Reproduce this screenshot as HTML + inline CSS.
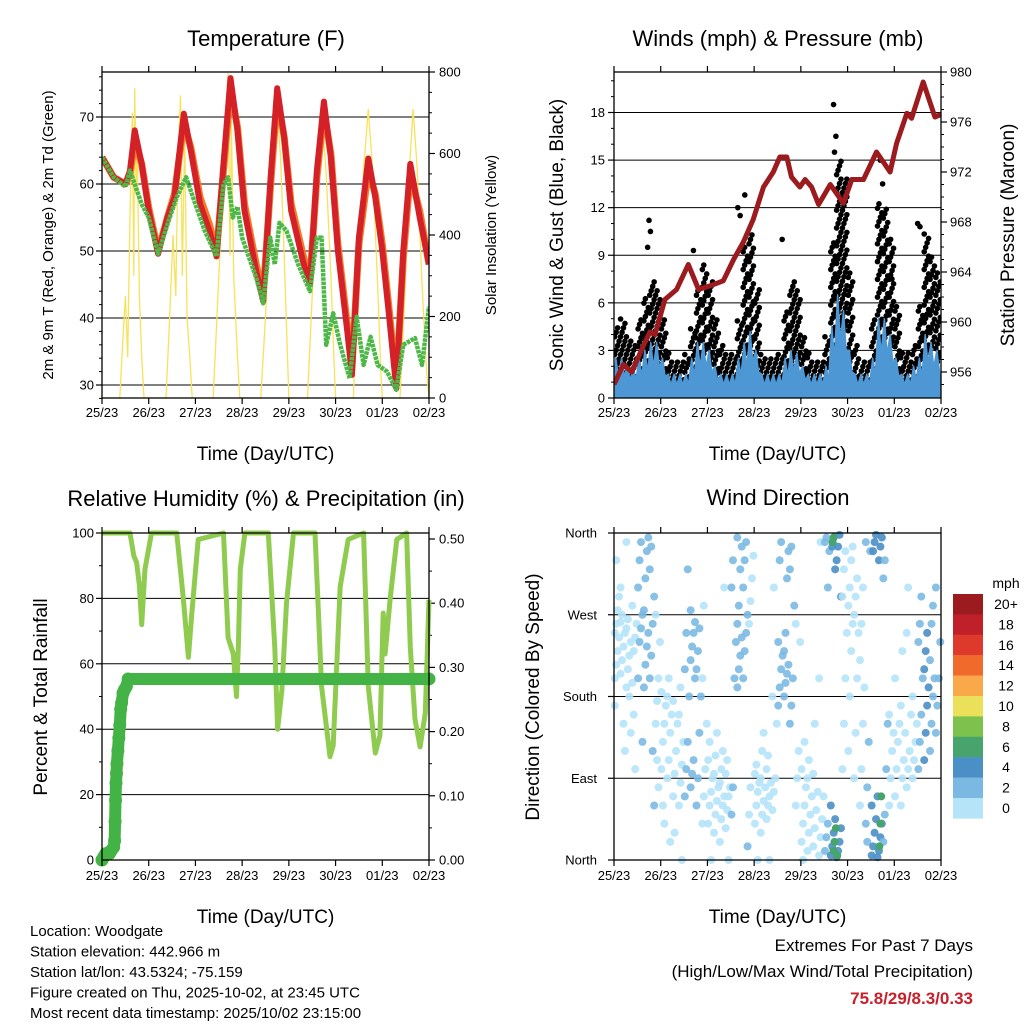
<!DOCTYPE html>
<html><head><meta charset="utf-8"><title>Weather station dashboard</title>
<style>
html,body{margin:0;padding:0;background:#fff;}
svg{display:block;font-family:"Liberation Sans",Arial,sans-serif;}
</style></head>
<body>
<svg id="root" width="1024" height="1024" viewBox="0 0 1024 1024" xmlns="http://www.w3.org/2000/svg">
<rect width="1024" height="1024" fill="#fff"/>
</svg>
<script>
// ---------- DATA ----------
const dayLabels = ["25/23","26/23","27/23","28/23","29/23","30/23","01/23","02/23"];
// Temperature (days since start, deg F)
const tempTime = [0,0.25,0.5,0.6,0.7,0.85,1.0,1.2,1.4,1.55,1.75,1.9,2.1,2.3,2.45,2.6,2.75,2.9,3.05,3.3,3.45,3.6,3.75,3.9,4.05,4.3,4.45,4.6,4.75,4.9,5.05,5.25,5.35,5.5,5.7,5.85,6.0,6.15,6.3,6.45,6.6,6.8,7.0];
const temp2m = [64,61,60,62,68,63,56,49.6,55,58,70.5,65,57,53,49.2,63,75.8,68,56,47,42.5,60,74.3,67,56,48.5,45,62,72.3,64,50,38,31.5,52,63.8,58,50,40,29.5,50,63,55,48];
const temp9m = [64,61,60,61.5,66.5,63,56.5,50,55,58.5,69,65.5,58,54,49.8,62,74,68.5,57,48,43.5,59,73,67,57,49.5,45.5,61,71,64.5,51,39,32.5,51,62,58.5,51,41,30.5,49,61.5,56,48];
const dewTime = [0,0.25,0.5,0.6,0.75,0.85,1.0,1.2,1.45,1.6,1.8,2.0,2.2,2.45,2.6,2.7,2.8,2.9,3.0,3.3,3.45,3.6,3.7,3.8,3.95,4.2,4.45,4.6,4.7,4.8,4.95,5.1,5.3,5.45,5.6,5.75,5.9,6.1,6.3,6.45,6.7,6.85,7.0];
const dewPoint = [64,61,59.6,62,59,57,55,49.6,55,58,61,57,53,49.2,60,61,55,56.6,52,46,42.2,52,48,54.2,53,48,44,52,52,36,40.7,36,31,40.2,33,37.2,33,32,29.3,36,37,33,41.7];
const solarTime = [0,0.38,0.45,0.5,0.55,0.6,0.65,0.68,0.7,0.73,0.75,0.8,0.85,0.9,1.37,1.45,1.52,1.58,1.62,1.68,1.72,1.77,1.82,1.88,1.93,2.38,2.48,2.58,2.65,2.7,2.74,2.77,2.82,2.9,2.95,3.4,3.5,3.6,3.68,3.75,3.82,3.9,3.97,4.0,4.4,4.5,4.6,4.7,4.8,4.9,4.97,5.0,5.38,5.5,5.6,5.7,5.8,5.9,5.97,6.0,6.38,6.5,6.58,6.66,6.75,6.85,6.95,7.0];
const solarVal = [0,0,150,250,100,450,700,300,760,500,650,250,100,0,0,200,400,250,550,743,300,650,200,100,0,0,250,500,700,797,350,680,300,100,0,0,200,450,650,694,600,350,100,0,0,250,500,707,550,300,80,0,0,300,560,709,550,280,60,0,0,300,560,709,560,280,60,0];
// Winds (3-hour bins) and pressure
const gustHi = [4.5,5,4,3.5,5,6.5,7.5,7, 5,3,2.5,2.5,3,4.5,7,8.5, 7.5,5,3.5,3,3,5,9.5,10.5, 7,3,2.5,2.5,3,5.5,7.5,7, 4,3,2.5,2.5,4,10,15,14, 8,3.5,2.5,2.5,5,12.5,12,10, 6,3,3,3.5,6,10.5,9,8];
const gustLo = [0.5,0.5,0.5,0.5,1,1.5,2,2, 1,0.3,0.3,0.3,0.5,1,2,2.5, 2,1,0.5,0.5,0.5,1.5,2.5,3, 1.5,0.5,0.5,0.5,0.5,1.5,2,2, 1,0.3,0.3,0.3,0.5,2.5,4,4, 2,0.5,0.3,0.3,1,3,3.5,3, 1,0.3,0.3,0.5,1,2.5,3,2];
const sonicHi = [2.5,2.5,2,2,2.5,3,3.5,3.5, 2.5,1.5,1.5,1.5,1.5,2.5,3.5,3.5, 3,2,1.5,1.5,1.5,2.5,3.5,4.2, 3,1.5,1.5,1.5,1.5,2.5,3,2.8, 2,1.5,1.5,1.5,2,4.5,6.5,5.5, 3,1.5,1.5,1.5,2.5,5,5,4, 2.5,1.5,1.5,2,2.5,4,3.5,3];
const gustOutlierTime = [0.75,0.78,0.72,1.7,2.65,2.7,2.8,3.6,4.7,4.75,4.72,5.7,5.75,5.95,6.5,6.55,1.75];
const gustOutlierVal = [11.2,10.5,9.5,9.3,12,11.5,12.8,10,18.5,16.5,15.5,15,13.5,7.5,11,10.8,3.8];
const presTime = [0,0.2,0.38,0.63,0.77,0.88,1.09,1.34,1.59,1.81,2.06,2.34,2.56,2.77,2.98,3.2,3.41,3.55,3.7,3.8,3.98,4.09,4.23,4.38,4.63,4.91,5.09,5.34,5.62,5.91,6.05,6.27,6.37,6.62,6.87,7.0];
const presVal = [955,956.6,956,958.1,959.2,959,961.8,962.6,964.6,962.6,962.9,963.3,965,966.4,968.2,970.8,972,973.2,973.2,971.6,970.8,971.4,970.8,969.4,971,969.5,971.4,971.4,973.6,972,974.3,976.7,976.3,979.2,976.4,976.6];
// RH and precipitation
const rhTime = [0,0.6,0.68,0.74,0.8,0.85,0.92,1.06,1.6,1.74,1.85,1.92,2.06,2.6,2.7,2.81,2.88,2.92,2.96,3.06,3.56,3.7,3.76,3.85,3.95,4.1,4.56,4.7,4.88,4.95,5.1,5.27,5.6,5.7,5.85,5.95,6.02,6.06,6.17,6.31,6.52,6.6,6.7,6.81,6.92,7.0];
const rhVal = [100,100,93,91,84,72,89,100,100,80,62,75,98,100,68,63,50,66,89,100,100,65,40,52,78.6,100,100,53,31.6,35,83.6,98,100,53,32.7,38,75.5,63,80,98,100,65,43,34.6,45,79.5];
const precipTime = [0,0.04,0.08,0.12,0.16,0.2,0.25,0.27,0.28,0.29,0.3,0.31,0.32,0.34,0.36,0.38,0.4,0.42,0.45,0.48,0.52,0.56,7.0];
const precipVal = [0,0.005,0.01,0.01,0.01,0.015,0.02,0.03,0.06,0.093,0.12,0.135,0.15,0.17,0.19,0.21,0.235,0.245,0.26,0.265,0.27,0.282,0.282];
// Wind direction (3-hour bins): degrees per bin and bin speed (mph)
const dirBins = [
[200,215,230,245,250,260,275,290,170,330],[205,220,235,250,262,270,150,120,300],[190,210,225,240,255,265,180,140,350],[195,230,245,260,280,160,100],
[200,240,255,270,300,330,350,130],[190,215,235,250,275,310,340,355],[200,225,260,290,320,345,120,60],[150,175,200,240,270,110,80],
[100,130,150,170,185,60,40],[90,110,140,160,180,200,20],[70,95,120,150,175,30],[60,85,105,130,160,190,0],
[70,100,130,180,210,250,320],[80,95,110,200,220,235,250,262,275],[60,90,140,180,210,230,255],[40,70,100,150,200,280],
[40,60,75,90,110,130,0],[30,50,65,80,95,115,140],[20,45,60,70,85,100,120,300],[35,55,70,80,95,110,0],
[50,80,200,240,300,330],[190,210,225,245,260,280,320,345,355],[200,230,250,270,300,330,350,15],[260,285,310,335,50,80],
[40,60,75,85,95,105,0],[30,50,65,80,90,120,140],[45,60,70,85,100,115,0],[55,75,90,150,180,300],
[170,190,210,225,240,330,350],[180,195,205,215,230,250,310,340],[150,170,200,280,320,345],[60,90,120,240,260],
[20,40,60,80,100,0,130],[10,30,50,70,90,110],[15,35,55,75,95,150],[5,25,45,70,200,350],
[10,25,40,340,350,355,300],[5,15,30,45,60,345,355,320],[3,10,20,35,330,345,358,290],[100,150,200,250,290,320,340],
[120,180,230,260,280,300,330,345],[90,140,200,250,270,290,310],[60,100,150,190,220,260,300],[40,80,130,340,350,20],
[5,15,30,45,60,340,350,358],[3,10,25,40,70,330,345,355],[20,50,100,150,310,330],[60,90,120,140,160],
[70,100,130,150,200],[60,90,110,140,170,230],[80,100,120,160,250,300],[90,110,130,150,180],
[100,130,160,200,240,260,290],[110,140,170,190,210,230,250],[120,150,180,200,220,260,280],[140,170,200,240,300]];
const dirBinSpeed = [1,1,1,1,2.5,3,3,1, 1,1,1,1,2.5,3,3,1, 1,1,1,1,2.5,3,3,1, 1,1,1,1,2.5,3,2.5,1, 1,1,1,1,3,4.5,4.5,1, 1,1,1,2.5,4.5,4.5,2.5,1, 1,1,1,1,3,4,3,2.5];
const strongTime = [4.7,4.72,4.75,4.68,4.7,5.7,5.72,5.68,4.78];
const strongDir = [10,20,35,350,355,40,70,15,5];
const strongSpd = [6.5,7,6.5,6.5,7,6.5,7,6.5,7];
const speedLabels = ["20+","18","16","14","12","10","8","6","4","2","0"];
const speedColors = ["#9b1b1e","#c0202a","#de3a2c","#f06a2b","#f9a84a","#ebe05a","#7cc24c","#47a46d","#4a8fc6","#7bb9e3","#b5e3f8"];

// ---------- HELPERS ----------
const NS = "http://www.w3.org/2000/svg";
const root = document.getElementById("root");
function el(tag, attrs, parent){
  const e = document.createElementNS(NS, tag);
  for (const k in attrs) e.setAttribute(k, attrs[k]);
  (parent||root).appendChild(e);
  return e;
}
function txt(s, x, y, size, anchor, parent, extra){
  const t = el("text", Object.assign({x:x, y:y, "font-size":size, "text-anchor":anchor||"middle", fill:"#000"}, extra||{}), parent);
  t.textContent = s;
  return t;
}
function lin(d0,d1,r0,r1){ return v => r0 + (v-d0)/(d1-d0)*(r1-r0); }
function path(xs, ys, sx, sy){ return xs.map((v,i)=>(i?"L":"M")+sx(v).toFixed(1)+","+sy(ys[i]).toFixed(1)).join(""); }

function panel(name){
  const g = el("g", {}, root);
  
  
  return g;
}
function frame(g, L,T,R,B, tickLabelY){
  const sx = lin(0,7,L,R);
  const fr = el("rect",{x:L,y:T,width:R-L,height:B-T,fill:"none",stroke:"#000","stroke-width":1.3}, g);
  
  
  const xg = el("g",{},g);
  
  
  for (let i=0;i<dayLabels.length;i++){
    const x = sx(i);
    el("line",{x1:x,y1:B,x2:x,y2:B+6,stroke:"#000","stroke-width":1.2},xg);
    el("line",{x1:x,y1:T,x2:x,y2:T-6,stroke:"#000","stroke-width":1.2},xg);
    const t = txt(dayLabels[i], x, tickLabelY, 13, "middle", xg);
    
    
  }
  const xt = txt("Time (Day/UTC)", (L+R)/2, tickLabelY+43, 19, "middle", g);
  
  
  return sx;
}
function yAxis(g, ticks, labels, sy, L, R, side, grid, minor, labX){
  const ag = el("g",{},g);
  
  
  ticks.forEach((v,i)=>{
    const y = sy(v);
    if (grid) el("line",{x1:L,y1:y,x2:R,y2:y,stroke:"#000","stroke-width":1},ag);
    if (side==="left") el("line",{x1:L,y1:y,x2:L-6,y2:y,stroke:"#000","stroke-width":1.2},ag);
    else el("line",{x1:R,y1:y,x2:R+6,y2:y,stroke:"#000","stroke-width":1.2},ag);
    const t = txt(labels[i], labX, y+4.5, 13, side==="left"?"end":"start", ag);
    
    
  });
  (minor||[]).forEach(v=>{
    const y = sy(v);
    if (side==="left") el("line",{x1:L,y1:y,x2:L-3,y2:y,stroke:"#000","stroke-width":1},ag);
    else el("line",{x1:R,y1:y,x2:R+3,y2:y,stroke:"#000","stroke-width":1},ag);
  });
}
function vtitle(g, s, x, y, size, name){
  const t = txt(s, x, y, size, "middle", g, {transform:"rotate(-90 "+x+" "+y+")"});
  
  
}
function title(g, s, x, y, name){
  const t = txt(s, x, y, 22, "middle", g);
  
  
}

// ---------- PANEL 1: TEMPERATURE ----------
(function(){
  const L=102,T=72,R=429,B=398;
  const g = panel("temperature-panel");
  title(g, "Temperature (F)", 266, 46, "temperature-title");
  const sy = lin(30,70,385,117);
  const sy2 = lin(0,800,398,72);
  const sx = lin(0,7,L,R);
  yAxis(g,[30,40,50,60,70],["30","40","50","60","70"],sy,L,R,"left",true,[28,32,34,36,38,42,44,46,48,52,54,56,58,62,64,66,68,72,74,76],94);
  const m2=[]; for(let v=50;v<800;v+=50) if(v%200) m2.push(v);
  yAxis(g,[0,200,400,600,800],["0","200","400","600","800"],sy2,L,R,"right",false,m2,439);
  const cp = el("clipPath",{id:"clipT"},g); el("rect",{x:L,y:T,width:R-L,height:B-T},cp);
  const cl = el("g",{"clip-path":"url(#clipT)"},g);
  const sol = el("path",{d:path(solarTime,solarVal,sx,sy2),fill:"none",stroke:"#f7e25a","stroke-width":1.3},cl);
  
  
  const o = el("path",{d:path(tempTime,temp9m,sx,sy),fill:"none",stroke:"#f47a2a","stroke-width":7,"stroke-linejoin":"round"},cl);
  
  
  const r = el("path",{d:path(tempTime,temp2m,sx,sy),fill:"none",stroke:"#d42027","stroke-width":6,"stroke-linejoin":"round"},cl);
  
  
  const d = el("path",{d:path(dewTime,dewPoint,sx,sy),fill:"none",stroke:"#4db748","stroke-width":4.5,"stroke-linejoin":"round","stroke-dasharray":"3.5 0.8"},cl);
  
  
  frame(g,L,T,R,B,417);
  vtitle(g,"2m & 9m T (Red, Orange) & 2m Td (Green)",53,235,15,"y-axis-title-left");
  vtitle(g,"Solar Insolation (Yellow)",496,235,15,"y-axis-title-right");
})();

// ---------- PANEL 2: WINDS ----------
(function(){
  const L=614,T=72,R=941,B=398;
  const g = panel("winds-panel");
  title(g, "Winds (mph) & Pressure (mb)", 778, 46, "winds-title");
  const sy = lin(0,18,398,112.5);
  const sy2 = lin(956,980,372,72);
  const sx = lin(0,7,L,R);
  const mn=[]; for(let v=1;v<21;v++) if(v%3) mn.push(v);
  yAxis(g,[0,3,6,9,12,15,18],["0","3","6","9","12","15","18"],sy,L,R,"left",true,mn,605);
  const mp=[]; for(let v=955;v<981;v++) if(v%4) mp.push(v);
  yAxis(g,[956,960,964,968,972,976,980],["956","960","964","968","972","976","980"],sy2,L,R,"right",false,mp,950);
  const cp = el("clipPath",{id:"clipW"},g); el("rect",{x:L,y:T,width:R-L,height:B-T},cp);
  const cl = el("g",{"clip-path":"url(#clipW)"},g);
  const bw = 7/gustHi.length;
  const gg = el("g",{},cl);
  
  
  for (let i=0;i<gustHi.length;i++){
    let k=0;
    for (let v=gustLo[i]; v<=gustHi[i]+0.01; v+=0.28, k++){
      const t = i*bw + ((k%4)+0.5)/4*bw;
      const c = el("circle",{cx:sx(t),cy:sy(v),r:2.8,fill:"#000"},gg);
      
      
    }
  }
  gustOutlierTime.forEach((t,i)=>{
    const c = el("circle",{cx:sx(t),cy:sy(gustOutlierVal[i]),r:2.8,fill:"#000"},gg);
    
    
  });
  let dd = "M"+sx(0)+","+sy(0);
  sonicHi.forEach((v,i)=>{ dd += "L"+sx(i*bw+bw*0.3).toFixed(1)+","+sy(v).toFixed(1)+"L"+sx(i*bw+bw*0.75).toFixed(1)+","+sy(v*0.55).toFixed(1); });
  dd += "L"+sx(7)+","+sy(0)+"Z";
  const sw = el("path",{d:dd,fill:"#4d97d4",stroke:"#4d97d4","stroke-width":1.5,"stroke-linejoin":"round"},cl);
  
  
  const pr = el("path",{d:path(presTime,presVal,sx,sy2),fill:"none",stroke:"#9b1b1e","stroke-width":5,"stroke-linejoin":"round"},cl);
  
  
  frame(g,L,T,R,B,417);
  vtitle(g,"Sonic Wind & Gust (Blue, Black)",563,235,19,"y-axis-title-left");
  vtitle(g,"Station Pressure (Maroon)",1014,235,19,"y-axis-title-right");
})();

// ---------- PANEL 3: RH & PRECIP ----------
(function(){
  const L=102,T=533,R=429,B=860;
  const g = panel("humidity-panel");
  title(g, "Relative Humidity (%) & Precipitation (in)", 266, 506, "humidity-title");
  const sy = lin(0,100,860,533);
  const sy2 = lin(0,0.5,860,539);
  const sx = lin(0,7,L,R);
  yAxis(g,[0,20,40,60,80,100],["0","20","40","60","80","100"],sy,L,R,"left",true,[10,30,50,70,90],94);
  const mp=[]; for(let v=0.05;v<0.5;v+=0.1) mp.push(v);
  yAxis(g,[0,0.1,0.2,0.3,0.4,0.5],["0.00","0.10","0.20","0.30","0.40","0.50"],sy2,L,R,"right",false,mp,439);
  const cp = el("clipPath",{id:"clipR"},g); el("rect",{x:L-8,y:T-8,width:R-L+16,height:B-T+16},cp);
  const cl = el("g",{"clip-path":"url(#clipR)"},g);
  const rh = el("path",{d:path(rhTime,rhVal,sx,sy),fill:"none",stroke:"#8fcb4f","stroke-width":5,"stroke-linejoin":"round"},cl);
  
  
  const pl = el("path",{d:path(precipTime,precipVal,sx,sy2),fill:"none",stroke:"#44b346","stroke-width":12,"stroke-linecap":"round","stroke-linejoin":"round"},cl);
  
  
  precipTime.forEach((t,i)=>{
    const c = el("circle",{cx:sx(t),cy:sy2(precipVal[i]),r:6.5,fill:"#44b346"},cl);
    
    
  });
  frame(g,L,T,R,B,880);
  vtitle(g,"Percent & Total Rainfall",47,697,19,"y-axis-title-left");
})();

// ---------- PANEL 4: WIND DIRECTION ----------
(function(){
  const L=614,T=533,R=941,B=860;
  const g = panel("wind-direction-panel");
  title(g, "Wind Direction", 778, 505, "wind-direction-title");
  const sy = lin(0,360,860,533);
  const sx = lin(0,7,L,R);
  yAxis(g,[0,90,180,270,360],["North","East","South","West","North"],sy,L,R,"left",true,[],597);
  function colorFor(s){ const idx = Math.min(10, Math.floor(s/2)); return speedColors[10-idx]; }
  const bw = 7/dirBins.length;
  const sg = el("g",{},g);
  
  
  dirBins.forEach((list,i)=>{
    list.forEach((deg,j)=>{
      const t = i*bw + ((j%4)+0.5)/4*bw;
      const c = el("circle",{cx:sx(t),cy:sy(deg),r:4,fill:colorFor(dirBinSpeed[i]),opacity:0.9},sg);
      
      
    });
  });
  strongTime.forEach((t,i)=>{
    const c = el("circle",{cx:sx(t),cy:sy(strongDir[i]),r:4,fill:colorFor(strongSpd[i])},sg);
    
    
  });
  frame(g,L,T,R,B,880);
  vtitle(g,"Direction (Colored By Speed)",539,697,19,"y-axis-title-left");
  const lg = el("g",{},g);
  
  
  const lt = txt("mph", 1006, 588, 14, "middle", lg);
  
  
  speedLabels.forEach((s,i)=>{
    const y = 594 + i*20.4;
    const r = el("rect",{x:953,y:y,width:30,height:20.6,fill:speedColors[i]},lg);
    
    
    const t = txt(s, 1006, y+15, 14, "middle", lg);
    
    
  });
})();

// ---------- FOOTER TEXT ----------
(function(){
  const g = el("g",{},root);
  
  
  const lines = ["Location: Woodgate","Station elevation: 442.966 m","Station lat/lon: 43.5324; -75.159","Figure created on Thu, 2025-10-02, at 23:45 UTC","Most recent data timestamp: 2025/10/02 23:15:00"];
  lines.forEach((s,i)=>{
    const t = txt(s, 30, 936+i*20.5, 15, "start", g);
    
    
  });
  const e = el("g",{},root);
  
  
  const a = txt("Extremes For Past 7 Days", 973, 951, 17, "end", e);
  
  
  const b = txt("(High/Low/Max Wind/Total Precipitation)", 973, 977, 17, "end", e);
  
  
  const c = txt("75.8/29/8.3/0.33", 973, 1004, 17, "end", e, {fill:"#c8202a","font-weight":"bold"});
  
  
})();
</script>
</body></html>
